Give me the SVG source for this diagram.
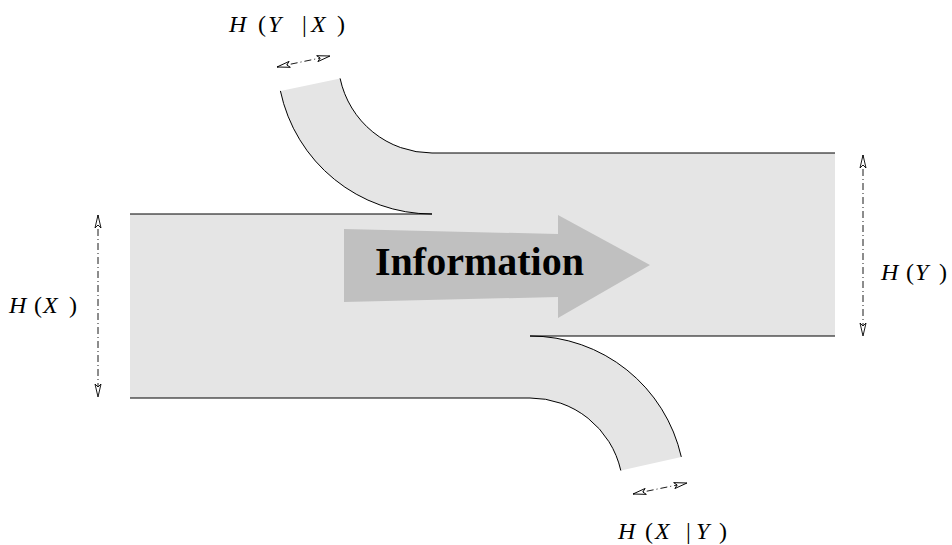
<svg xmlns="http://www.w3.org/2000/svg" width="952" height="545" viewBox="0 0 952 545">
<style>
.flow{fill:#e5e5e5;stroke:none}
.edge{fill:none;stroke:#000;stroke-width:1}
.dim{fill:none;stroke:#000;stroke-width:0.9;stroke-dasharray:7 3 1 3}
.lbl{font-size:24px;fill:#000}
.it{font-style:italic}
.big{font-size:40px;font-weight:bold;fill:#000}
</style>
<defs>
<marker id="ah" viewBox="0 0 14 8" refX="13.5" refY="4" markerWidth="14" markerHeight="8" markerUnits="userSpaceOnUse" orient="auto-start-reverse">
<path d="M13.5,4 L0.5,1 L3.5,4 L0.5,7 Z" fill="#fff" stroke="#000" stroke-width="0.9"/>
</marker>
</defs>
<g id="channel">
<path class="flow" d="M130,214 L432,214 A155,155 0 0 1 280.4,90.9 L340.1,78.4 A94,94 0 0 0 432,153 L835,153 L835,336 L530,336 A155,155 0 0 1 681.3,456.9 L620.8,470.5 A93,93 0 0 0 530,398 L130,398 Z"/>
<path class="edge" d="M130,214 L432,214 A155,155 0 0 1 280.4,90.9"/>
<path class="edge" d="M340.1,78.4 A94,94 0 0 0 432,153 L835,153"/>
<path class="edge" d="M835,336 L530,336 A155,155 0 0 1 681.3,456.9"/>
<path class="edge" d="M620.8,470.5 A93,93 0 0 0 530,398 L130,398"/>
</g>
<g id="information">
<polygon points="344,229 558,234 558,215 650,265 558,318 558,297 344,302" fill="#c0c0c0"/>
<text class="big" x="375" y="275" font-family="'Liberation Serif', 'DejaVu Serif', serif">Information</text>
</g>
<g id="connectors">
<line class="dim" x1="98" y1="215" x2="98" y2="397" marker-start="url(#ah)" marker-end="url(#ah)"/>
<line class="dim" x1="863" y1="155" x2="863" y2="336" marker-start="url(#ah)" marker-end="url(#ah)"/>
<line class="dim" x1="277" y1="67" x2="330" y2="56" marker-start="url(#ah)" marker-end="url(#ah)"/>
<line class="dim" x1="633" y1="494" x2="687" y2="483" marker-start="url(#ah)" marker-end="url(#ah)"/>
</g>
<g id="label-hyx">
<text class="lbl" y="32" font-family="'Liberation Serif', 'DejaVu Serif', serif"><tspan class="it" x="229">H</tspan><tspan x="258">(</tspan><tspan class="it" x="268">Y</tspan><tspan x="302">|</tspan><tspan class="it" x="311">X</tspan><tspan x="337">)</tspan></text>
</g>
<g id="label-hxy">
<text class="lbl" y="539" font-family="'Liberation Serif', 'DejaVu Serif', serif"><tspan class="it" x="618">H</tspan><tspan x="645">(</tspan><tspan class="it" x="655">X</tspan><tspan x="686">|</tspan><tspan class="it" x="696">Y</tspan><tspan x="719">)</tspan></text>
</g>
<g id="label-hx">
<text class="lbl" y="313" font-family="'Liberation Serif', 'DejaVu Serif', serif"><tspan class="it" x="9">H</tspan><tspan x="34">(</tspan><tspan class="it" x="43">X</tspan><tspan x="69">)</tspan></text>
</g>
<g id="label-hy">
<text class="lbl" y="280" font-family="'Liberation Serif', 'DejaVu Serif', serif"><tspan class="it" x="881">H</tspan><tspan x="906">(</tspan><tspan class="it" x="915">Y</tspan><tspan x="939">)</tspan></text>
</g>
</svg>
